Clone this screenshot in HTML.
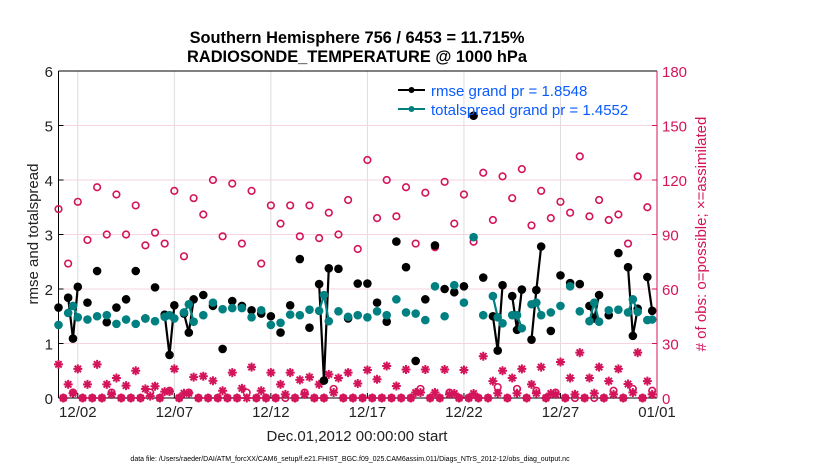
<!DOCTYPE html>
<html><head><meta charset="utf-8">
<style>
body{margin:0;background:#fff;}
svg{display:block;font-family:"Liberation Sans",sans-serif;}
</style></head>
<body>
<svg id="chart" width="830" height="470" viewBox="0 0 830 470">
<text x="357" y="43" text-anchor="middle" font-size="16.4" font-weight="bold">Southern Hemisphere 756 / 6453 = 11.715%</text>
<text x="357" y="62" text-anchor="middle" font-size="16.4" font-weight="bold">RADIOSONDE_TEMPERATURE @ 1000 hPa</text>
<g id="grid"></g>
<g id="axes"></g>
<g id="marks"></g>
<text transform="translate(38,234) rotate(-90)" text-anchor="middle" font-size="15" fill="#222">rmse and totalspread</text>
<text transform="translate(706,234) rotate(-90)" text-anchor="middle" font-size="15" fill="#D4145A"># of obs: o=possible; ×=assimilated</text>
<text x="357" y="441" text-anchor="middle" font-size="15" fill="#222">Dec.01,2012 00:00:00 start</text>
<text x="350" y="461" text-anchor="middle" font-size="7" fill="#000">data file: /Users/raeder/DAI/ATM_forcXX/CAM6_setup/f.e21.FHIST_BGC.f09_025.CAM6assim.011/Diags_NTrS_2012-12/obs_diag_output.nc</text>
<g>
<line x1="398" y1="90" x2="425" y2="90" stroke="#000" stroke-width="2"/>
<circle cx="411.5" cy="90" r="3" fill="#000"/>
<text x="431" y="96" font-size="15" fill="#0A5BFF">rmse grand pr = 1.8548</text>
<line x1="398" y1="109" x2="425" y2="109" stroke="#008080" stroke-width="2"/>
<circle cx="411.5" cy="109" r="3" fill="#008080"/>
<text x="431" y="115" font-size="15" fill="#0A5BFF">totalspread grand pr = 1.4552</text>
</g>
</svg>
<script>
// 12-hourly (00Z/12Z) times t = 0, 0.5, ... 30.5 days
const possibleHalf = [104,74,108,87,116,90,112,90,106,84,91,85,114,78,110,101,120,89,118,85,114,74,106,96,106,89,106,88,102,90,109,82,131,99,120,100,116,85,113,83,119,96,112,86,124,98,122,110,126,95,114,99,108,102,133,100,109,98,101,85,122,105];
const usedHalf = [18.5,7.5,16,7.5,18.5,7.5,11,6.8,15,5,6.5,3.5,16,2.6,11.5,12,9.5,4,14,5.3,17,4,14,7.5,14,10,11.5,7.5,13,11,14,8,15.4,10.3,17.6,6.6,15.7,3,15.7,3,15.7,2.5,15.4,2.5,23,9.3,15,11,16,7.5,17,2.5,19.8,11,25,11,17,9.3,16,7.7,25,9.3];
// quarter-day (06Z/18Z) times t = 0.25, 0.75, ... 30.75 days
const possibleQuarter = [0,3,0,0,0,3,0,0,0,3,0,4,0,3,0,0,0,0,0,3,0,0,0,0,0,3,0,0,5,0,0,0,0,0,0,0,0,5,0,0,3,0,0,0,0,6,0,5,0,4,0,3,0,0,0,0,0,4,0,5,0,4];
const usedQuarter = [0,2.6,0,0,0,2,0,0,0,1,0,3.5,0,2.6,0,0,0,0,0,0,0,0,0,2,0,2,0,0,3,0,0,0,0,0,0,0,0,3,0,0,2,0,0,0,0,2.6,0,2.6,0,2.6,0,2,0,2,0,2.6,0,2,0,3,0,2];
// 6-hourly rmse and totalspread (null = missing)
const rmse = [1.66,null,1.84,1.09,2.04,null,1.75,null,2.33,null,1.39,null,1.66,null,1.81,null,2.33,null,1.46,null,2.03,null,1.53,0.79,1.70,null,1.55,1.20,1.81,null,1.89,null,1.69,null,0.90,null,1.78,null,1.69,null,1.61,null,1.55,null,1.50,null,1.20,null,1.70,null,2.55,null,1.29,null,2.09,0.32,2.38,null,2.37,null,1.46,null,2.10,null,2.10,null,1.75,null,1.40,null,2.87,null,2.40,null,0.68,null,1.81,null,2.80,null,2.00,null,1.94,null,2.05,null,5.18,null,2.21,null,1.50,0.87,2.07,null,1.87,1.25,1.99,null,1.07,1.98,2.78,null,1.23,null,2.25,null,2.11,null,2.09,null,1.69,1.46,1.89,null,1.52,null,2.66,null,2.40,1.14,1.64,null,2.22,1.60];
const spread = [1.34,null,1.56,1.69,1.48,null,1.44,null,1.50,null,1.52,null,1.36,null,1.44,null,1.36,null,1.46,null,1.41,null,1.49,1.52,1.46,null,1.57,1.72,1.40,null,1.52,null,1.75,null,1.63,null,1.65,null,1.65,null,1.48,null,1.61,null,1.34,null,1.38,null,1.53,null,1.52,null,1.62,null,1.60,1.89,1.41,null,1.59,null,1.49,null,1.52,null,1.48,null,1.59,null,1.52,null,1.81,null,1.57,null,1.55,null,1.43,null,2.05,null,1.50,null,2.07,null,1.75,null,2.95,null,1.52,null,1.87,1.48,1.37,null,1.52,1.52,1.28,null,1.72,1.75,1.52,null,1.57,null,1.69,null,2.05,null,1.59,null,1.41,1.75,1.40,null,1.61,null,1.62,null,1.57,1.81,1.58,null,1.43,1.44];
const xTickDays = [1,6,11,16,21,26,31];
const xTickLabels = ["12/02","12/07","12/12","12/17","12/22","12/27","01/01"];
const yTicks = [0,1,2,3,4,5,6];
const y2Ticks = [0,30,60,90,120,150,180];

const X0=58.5, X1=657, Y0=398, Y1=71;
const xs = d => X0 + d/31*(X1-X0);
const ys = v => Y0 - v/6*(Y0-Y1);
const ys2 = v => Y0 - v/180*(Y0-Y1);
const NS="http://www.w3.org/2000/svg";
function mk(tag, attrs, parent){const e=document.createElementNS(NS,tag);for(const k in attrs)e.setAttribute(k,attrs[k]);parent.appendChild(e);return e;}
const grid=document.getElementById('grid'), axes=document.getElementById('axes'), marks=document.getElementById('marks');
const CR="#D4145A";

xTickDays.forEach((d,i)=>{
  const g=mk('line',{x1:xs(d),x2:xs(d),y1:Y1,y2:Y0,stroke:"#dcdcdc","stroke-width":1},grid);
  
  
  mk('line',{x1:xs(d),x2:xs(d),y1:Y0,y2:Y0-5,stroke:"#000"},axes);
  const t=mk('text',{x:xs(d),y:417,"text-anchor":"middle","font-size":15,fill:"#222"},axes);
  t.textContent=xTickLabels[i];
  
  
});
y2Ticks.forEach(v=>{
  const g=mk('line',{x1:X0,x2:X1,y1:ys2(v),y2:ys2(v),stroke:"#f6d3df","stroke-width":1},grid);
  
  
  mk('line',{x1:X1-5,x2:X1,y1:ys2(v),y2:ys2(v),stroke:CR},axes);
  const t=mk('text',{x:X1+5,y:ys2(v)+6,"font-size":15,fill:CR},axes);
  t.textContent=v;
  
  
});
yTicks.forEach(v=>{
  mk('line',{x1:X0,x2:X0+5,y1:ys(v),y2:ys(v),stroke:"#000"},axes);
  const t=mk('text',{x:53,y:ys(v)+6,"text-anchor":"end","font-size":15,fill:"#222"},axes);
  t.textContent=v;
  
  
});
mk('line',{x1:X0,x2:X1,y1:Y1,y2:Y1,stroke:"#000"},axes);
mk('line',{x1:X0,x2:X1,y1:Y0,y2:Y0,stroke:"#000"},axes);
mk('line',{x1:X0,x2:X0,y1:Y1,y2:Y0,stroke:"#000"},axes);
mk('line',{x1:X1,x2:X1,y1:Y1,y2:Y0,stroke:CR},axes);

function ring(d,v){
  const c=mk('circle',{cx:xs(d),cy:ys2(v),r:3.3,fill:"none",stroke:CR,"stroke-width":1.6},marks);
  
  
}
function star(d,v){
  const x=xs(d),y=ys2(v),r=4.5,a=r*0.707;
  const p=mk('path',{d:`M${x-r},${y}H${x+r}M${x},${y-r}V${y+r}M${x-a},${y-a}L${x+a},${y+a}M${x-a},${y+a}L${x+a},${y-a}`,stroke:CR,"stroke-width":2,fill:"none"},marks);
  
  
}
possibleHalf.forEach((v,i)=>ring(i*0.5,v));
possibleQuarter.forEach((v,i)=>ring(i*0.5+0.25,v));
usedHalf.forEach((v,i)=>star(i*0.5,v));
usedQuarter.forEach((v,i)=>star(i*0.5+0.25,v));

function series(arr,color,name){
  let seg=[];
  const flush=()=>{ if(seg.length>1){const pl=mk('polyline',{points:seg.join(' '),fill:"none",stroke:color,"stroke-width":2.2},marks);
      
      } seg=[]; };
  arr.forEach((v,i)=>{
    if(v===null){flush();return;}
    seg.push(xs(i*0.25)+','+ys(v));
  });
  flush();
  arr.forEach((v,i)=>{
    if(v===null)return;
    const c=mk('circle',{cx:xs(i*0.25),cy:ys(v),r:4.3,fill:color},marks);
    
    
  });
}
series(rmse,"#000","rmse");
series(spread,"#008080","totalspread");
</script>
</body></html>
